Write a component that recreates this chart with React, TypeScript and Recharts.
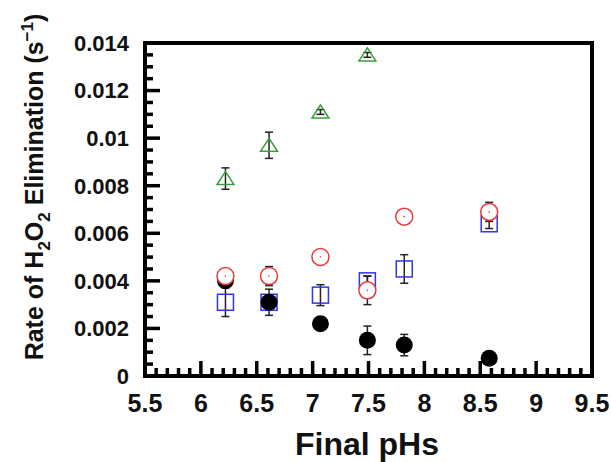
import React from 'react';
import { ScatterChart, Scatter, XAxis, YAxis, ErrorBar, Label, ReferenceArea } from 'recharts';

// final pH of each run (shared by all series)
const finalPh = [6.22, 6.61, 7.07, 7.49, 7.82, 8.58];

// rate constants (s^-1) and their error bars
const blackRate = [0.004, 0.0031, 0.0022, 0.0015, 0.0013, 0.00075];
const blackErr = [null, null, null, 0.0006, 0.00045, null];

const blueRate = [0.0031, 0.0031, 0.0034, 0.004, 0.0045, 0.0064];
const blueErr = [0.0006, 0.00055, 0.00044, 0.0002, 0.0006, 0.0002];

const redRate = [0.0042, 0.0042, 0.005, 0.0036, 0.0067, 0.0069];
const redErr = [null, 0.0004, null, 0.0006, null, 0.0004];

const greenRate = [0.0083, 0.0097, 0.0111, 0.0135];
const greenErr = [0.00045, 0.00055, 0.0001, 0.0001];

const xTicks = [5.5, 6, 6.5, 7, 7.5, 8, 8.5, 9, 9.5];
const yTicks = [0, 0.002, 0.004, 0.006, 0.008, 0.01, 0.012, 0.014];

// minor ticks between the labelled ones
const xMinor = Array.from({ length: 41 }, (_, i) => +(5.5 + i * 0.1).toFixed(1));
const yMinor = Array.from({ length: 29 }, (_, i) => +(i * 0.0005).toFixed(4));

const toRows = (rates: number[], errs: (number | null)[]) =>
  rates.map((y, i) => ({ x: finalPh[i], y, err: errs[i] }));

const FONT = '"Liberation Sans", Arial, sans-serif';
const GREEN = '#3c9e3c';
const RED = '#e83a3a';
const BLUE = '#3434e6';

const isMajor = (v: number, steps: number[]) => steps.some((s) => Math.abs(s - v) < 1e-9);

function XTick(props: any) {
  const { x, y, payload, side } = props;
  const v = payload.value;
  const major = isMajor(v, xTicks);
  const len = major ? 15 : 8;
  const dir = side === 'bottom' ? -1 : 1;
  return (
    <g>
      <line x1={x} y1={y} x2={x} y2={y + dir * len} stroke="#000" strokeWidth={3.5} />
      {side === 'bottom' && major && (
        <text x={x} y={y + 36} textAnchor="middle" fontFamily={FONT} fontWeight="bold" fontSize={25} fill="#111">
          {String(v)}
        </text>
      )}
    </g>
  );
}

function YTick(props: any) {
  const { x, y, payload, side } = props;
  const v = payload.value;
  const major = isMajor(v, yTicks);
  const len = major ? 15 : 8;
  const dir = side === 'left' ? 1 : -1;
  return (
    <g>
      <line x1={x} y1={y} x2={x + dir * len} y2={y} stroke="#000" strokeWidth={3.5} />
      {side === 'left' && major && (
        <text x={x - 16} y={y} dy="0.36em" textAnchor="end" fontFamily={FONT} fontWeight="bold" fontSize={22} fill="#111">
          {String(+v.toFixed(4))}
        </text>
      )}
    </g>
  );
}

const BlackDot = ({ cx, cy }: any) => <circle cx={cx} cy={cy} r={8.5} fill="#000" />;
const BlueSquare = ({ cx, cy }: any) => (
  <rect x={cx - 8} y={cy - 8} width={16} height={16} fill="none" stroke={BLUE} strokeWidth={1.5} />
);
const RedCircle = ({ cx, cy }: any) => (
  <g>
    <circle cx={cx} cy={cy} r={8.5} fill="#fff" stroke={RED} strokeWidth={1.5} />
    <circle cx={cx} cy={cy} r={0.8} fill={RED} />
  </g>
);
const GreenTriangle = ({ cx, cy }: any) => (
  <polygon
    points={`${cx},${cy - 7} ${cx + 8.5},${cy + 6} ${cx - 8.5},${cy + 6}`}
    fill="none"
    stroke={GREEN}
    strokeWidth={1.5}
  />
);

export default function App() {
  return (
    <div style={{ position: 'absolute', left: 0, top: 0, background: '#fff' }}>
      <ScatterChart width={611} height={462} margin={{ top: 33, right: 9, bottom: 26, left: 45 }}>
        <XAxis
          xAxisId="b"
          dataKey="x"
          type="number"
          domain={[5.5, 9.5]}
          ticks={xMinor}
          interval={0}
          height={60}
          tickSize={0}
          tickMargin={0}
          tickLine={false}
          axisLine={false}
          tick={<XTick side="bottom" />}
        >
          <Label
            content={() => (
              <text x={367} y={455} textAnchor="middle" fontFamily={FONT} fontWeight="bold" fontSize={32} fill="#111">
                Final pHs
              </text>
            )}
          />
        </XAxis>
        <XAxis
          xAxisId="t"
          orientation="top"
          dataKey="x"
          type="number"
          domain={[5.5, 9.5]}
          ticks={xMinor}
          interval={0}
          height={10}
          tickSize={0}
          tickMargin={0}
          tickLine={false}
          axisLine={false}
          tick={<XTick side="top" />}
        />
        <YAxis
          yAxisId="l"
          dataKey="y"
          type="number"
          domain={[0, 0.014]}
          ticks={yMinor}
          interval={0}
          width={100}
          tickSize={0}
          tickMargin={0}
          tickLine={false}
          axisLine={false}
          tick={<YTick side="left" />}
        >
          <Label
            content={() => (
              <text
                transform="translate(43,187) rotate(-90)"
                textAnchor="middle"
                fontFamily={FONT}
                fontWeight="bold"
                fontSize={25}
                fill="#111"
              >
                Rate of H
                <tspan dy={7} fontSize={17}>2</tspan>
                <tspan dy={-7}>O</tspan>
                <tspan dy={7} fontSize={17}>2</tspan>
                <tspan dy={-7}> Elimination (s</tspan>
                <tspan dy={-10} fontSize={17}>−1</tspan>
                <tspan dy={10}>)</tspan>
              </text>
            )}
          />
        </YAxis>
        <YAxis
          yAxisId="r"
          orientation="right"
          dataKey="y"
          type="number"
          domain={[0, 0.014]}
          ticks={yMinor}
          interval={0}
          width={10}
          tickSize={0}
          tickMargin={0}
          tickLine={false}
          axisLine={false}
          tick={<YTick side="right" />}
        />
        <ReferenceArea
          xAxisId="b"
          yAxisId="l"
          x1={5.5}
          x2={9.5}
          y1={0}
          y2={0.014}
          fill="none"
          fillOpacity={0}
          stroke="#000"
          strokeWidth={4}
          ifOverflow="visible"
        />
        <Scatter xAxisId="b" yAxisId="l" data={toRows(blueRate, blueErr)} shape={BlueSquare} isAnimationActive={false}>
          <ErrorBar dataKey="err" direction="y" width={4} stroke="#222" strokeWidth={1.5} isAnimationActive={false} />
        </Scatter>
        <Scatter xAxisId="b" yAxisId="l" data={toRows(blackRate, blackErr)} shape={BlackDot} isAnimationActive={false}>
          <ErrorBar dataKey="err" direction="y" width={4} stroke="#222" strokeWidth={1.5} isAnimationActive={false} />
        </Scatter>
        <Scatter xAxisId="b" yAxisId="l" data={toRows(redRate, redErr)} shape={RedCircle} isAnimationActive={false}>
          <ErrorBar dataKey="err" direction="y" width={4} stroke="#222" strokeWidth={1.5} isAnimationActive={false} />
        </Scatter>
        <Scatter
          xAxisId="b"
          yAxisId="l"
          data={toRows(greenRate, greenErr)}
          shape={GreenTriangle}
          isAnimationActive={false}
        >
          <ErrorBar dataKey="err" direction="y" width={4} stroke="#222" strokeWidth={1.5} isAnimationActive={false} />
        </Scatter>
      </ScatterChart>
    </div>
  );
}
